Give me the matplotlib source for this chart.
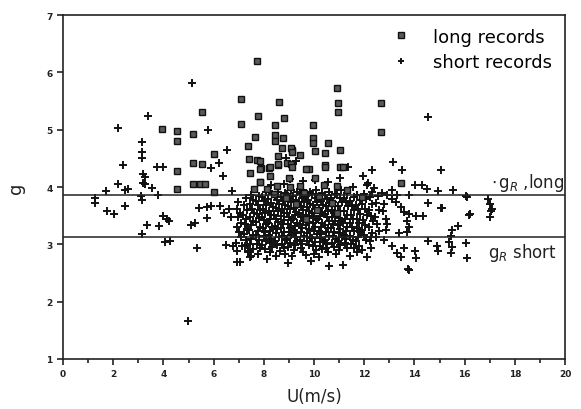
import matplotlib
matplotlib.use("Agg")
import matplotlib.pyplot as plt
from matplotlib.ticker import MultipleLocator

# ---- data ----
long_pts = [
    (7.73, 6.20), (7.09, 5.54), (8.60, 5.49), (5.53, 5.31), (7.76, 5.23), (8.80, 5.21),
    (3.96, 5.01), (4.55, 4.97), (5.18, 4.93), (4.54, 4.81), (7.08, 5.10), (8.46, 5.08),
    (7.65, 4.87), (8.46, 4.90), (8.46, 4.81), (8.78, 4.85), (7.39, 4.71), (6.03, 4.58),
    (7.41, 4.48), (7.72, 4.47), (9.13, 4.65), (5.16, 4.41), (5.54, 4.40), (7.46, 4.24),
    (4.54, 4.28), (7.88, 4.33), (8.20, 4.33), (8.56, 4.39), (8.92, 4.42), (5.17, 4.05),
    (5.46, 4.05), (5.66, 4.06), (4.53, 3.96), (6.03, 3.91), (7.85, 4.09), (7.61, 3.97),
    (10.92, 5.73), (10.96, 5.46), (10.96, 5.31), (12.67, 5.46), (12.67, 4.96), (9.96, 5.09),
    (9.96, 4.85), (9.98, 4.77), (10.56, 4.77), (11.04, 4.65), (9.44, 4.55), (10.04, 4.62),
    (10.44, 4.60), (10.44, 4.38), (11.04, 4.35), (9.80, 4.32), (13.47, 4.07), (8.73, 4.68),
    (9.10, 4.68), (9.12, 4.61), (8.57, 4.54), (8.57, 4.40), (7.85, 4.46), (7.85, 4.32),
    (8.25, 4.35), (9.08, 4.40), (9.12, 4.35), (9.68, 4.32), (10.44, 4.35), (11.15, 4.35),
    (8.25, 4.20), (9.00, 4.16), (10.04, 4.16), (7.85, 4.09), (8.53, 4.02), (9.05, 4.00),
    (9.44, 4.02), (10.40, 4.04), (10.90, 4.02), (8.12, 3.97), (9.60, 3.90), (10.20, 3.85),
    (8.90, 3.80), (11.30, 3.95), (9.30, 3.70), (10.70, 3.72), (11.90, 3.82), (8.40, 3.88),
    (10.10, 3.60), (10.90, 3.55), (9.70, 3.45),
]

short_pts = [
    # outlying points
    (5.15, 5.82), (3.38, 5.24), (2.20, 5.03), (5.79, 5.00), (3.14, 4.79), (3.14, 4.61),
    (3.14, 4.50), (2.38, 4.39), (3.73, 4.35), (3.98, 4.35), (6.23, 4.42), (6.52, 4.65),
    (5.90, 4.34), (6.36, 4.20), (3.20, 4.22), (3.25, 4.18), (3.20, 4.07), (3.28, 4.05),
    (2.20, 4.05), (1.71, 3.93), (2.48, 3.95), (2.60, 3.97), (3.54, 3.98), (3.12, 3.84),
    (3.14, 3.78), (3.80, 3.86), (6.73, 3.93), (1.28, 3.81), (1.28, 3.72), (1.74, 3.58),
    (2.04, 3.53), (2.49, 3.67), (3.36, 3.34), (3.84, 3.32), (3.98, 3.50), (4.14, 3.44),
    (4.24, 3.41), (4.07, 3.04), (4.26, 3.06), (3.14, 3.18), (5.10, 3.34), (5.26, 3.37),
    (5.42, 3.63), (5.74, 3.65), (5.90, 3.67), (5.74, 3.46), (5.34, 2.94), (4.99, 1.66),
    (6.50, 2.99), (6.77, 2.97), (6.93, 2.88), (7.13, 2.97), (7.33, 2.99), (7.37, 2.88),
    (7.45, 2.78), (6.93, 2.69), (6.25, 3.67), (6.40, 3.55), (6.62, 3.62), (6.70, 3.48),
    (14.54, 3.72), (15.06, 3.63), (16.17, 3.51), (15.74, 3.32), (15.50, 3.25), (15.46, 3.15),
    (14.54, 3.06), (14.90, 2.97), (14.94, 2.88), (15.38, 3.04), (15.50, 2.95), (15.46, 2.85),
    (16.06, 3.02), (16.10, 2.76), (13.78, 2.55), (14.02, 2.88), (14.06, 2.76), (13.59, 2.94),
    (13.31, 2.85), (13.47, 2.78), (13.70, 3.41), (13.78, 3.30), (13.70, 3.22), (13.40, 3.20),
    (14.06, 3.50), (14.34, 3.50), (13.47, 3.65), (13.59, 3.57), (13.78, 3.53), (14.54, 5.22),
    (13.15, 4.44), (13.50, 4.30), (12.30, 4.30), (15.06, 4.30), (12.10, 4.04), (14.02, 4.04),
    (14.30, 4.04), (14.50, 3.97), (14.94, 3.93), (15.54, 3.95), (13.10, 3.95), (16.06, 3.84),
    (11.35, 4.35), (11.95, 4.20), (12.15, 4.07), (16.10, 3.83), (16.93, 3.79), (17.01, 3.70),
    (17.09, 3.62), (17.05, 3.58), (17.00, 3.48), (16.20, 3.53), (15.10, 3.63), (13.75, 2.57),
    (12.90, 3.86), (13.30, 3.86), (13.80, 3.86), (9.30, 4.45), (8.90, 4.50), (12.40, 3.98),
    # dense cloud
    (6.92, 3.62), (7.05, 3.55), (6.98, 3.47), (7.08, 3.38), (6.95, 3.30), (7.02, 3.21),
    (7.10, 3.12), (6.90, 3.02), (7.04, 2.70), (6.97, 3.74),
    (7.30, 3.80), (7.22, 3.69), (7.33, 3.60), (7.18, 3.52), (7.28, 3.44),
    (7.24, 3.35), (7.35, 3.27), (7.20, 3.18), (7.30, 3.08), (7.26, 2.97), (7.38, 2.86),
    (7.48, 3.86), (7.58, 3.77), (7.44, 3.70), (7.52, 3.62),
    (7.60, 3.55), (7.47, 3.48), (7.55, 3.40), (7.50, 3.33), (7.42, 3.25), (7.58, 3.17),
    (7.50, 3.09), (7.46, 3.00), (7.55, 2.92), (7.48, 2.80),
    (7.82, 3.84), (7.68, 3.76), (7.78, 3.68),
    (7.85, 3.60), (7.72, 3.53), (7.80, 3.46), (7.70, 3.39), (7.83, 3.31), (7.76, 3.24),
    (7.69, 3.16), (7.81, 3.08), (7.74, 3.01), (7.86, 2.93), (7.78, 2.84),
    (8.08, 3.91), (7.93, 3.83), (8.02, 3.76),
    (8.10, 3.69), (7.97, 3.62), (8.05, 3.55), (7.92, 3.48), (8.00, 3.42), (8.08, 3.35),
    (7.95, 3.28), (8.04, 3.21), (7.99, 3.14), (8.10, 3.06), (7.94, 2.99), (8.03, 2.91),
    (8.12, 2.75),
    (8.30, 4.03), (8.32, 3.87), (8.18, 3.79), (8.27, 3.72),
    (8.35, 3.65), (8.21, 3.58), (8.30, 3.52), (8.24, 3.45), (8.16, 3.38), (8.33, 3.31),
    (8.26, 3.24), (8.19, 3.17), (8.29, 3.10), (8.23, 3.03), (8.34, 2.95), (8.25, 2.87),
    (8.58, 3.92), (8.43, 3.85), (8.52, 3.78),
    (8.60, 3.71), (8.47, 3.64), (8.55, 3.58), (8.42, 3.51), (8.50, 3.45), (8.58, 3.39),
    (8.45, 3.32), (8.54, 3.26), (8.49, 3.19), (8.60, 3.12), (8.44, 3.05), (8.53, 2.98),
    (8.65, 2.88), (8.50, 2.80),
    (8.80, 4.05), (8.83, 3.89), (8.68, 3.82), (8.77, 3.75),
    (8.85, 3.68), (8.72, 3.62), (8.80, 3.55), (8.70, 3.49), (8.82, 3.42), (8.75, 3.36),
    (8.68, 3.29), (8.80, 3.22), (8.74, 3.15), (8.86, 3.08), (8.71, 3.01), (8.79, 2.93),
    (8.83, 2.84),
    (9.05, 4.14), (9.08, 3.95), (8.93, 3.88), (9.02, 3.81),
    (9.10, 3.74), (8.97, 3.67), (9.05, 3.61), (8.92, 3.54), (9.00, 3.48), (9.08, 3.42),
    (8.95, 3.35), (9.04, 3.29), (8.99, 3.22), (9.10, 3.16), (8.94, 3.09), (9.03, 3.02),
    (8.96, 2.95), (9.12, 2.80), (8.96, 2.68),
    (9.32, 3.91), (9.18, 3.84), (9.27, 3.77),
    (9.35, 3.70), (9.21, 3.64), (9.30, 3.57), (9.24, 3.51), (9.16, 3.45), (9.33, 3.38),
    (9.26, 3.32), (9.19, 3.25), (9.29, 3.19), (9.23, 3.12), (9.34, 3.05), (9.25, 2.98),
    (9.20, 2.90),
    (9.55, 4.11), (9.58, 3.94), (9.43, 3.87), (9.52, 3.80),
    (9.60, 3.73), (9.47, 3.66), (9.55, 3.60), (9.42, 3.54), (9.50, 3.47), (9.58, 3.41),
    (9.45, 3.35), (9.54, 3.28), (9.49, 3.22), (9.60, 3.15), (9.44, 3.08), (9.53, 3.01),
    (9.50, 2.93), (9.57, 2.86),
    (9.83, 3.92), (9.68, 3.85), (9.77, 3.78),
    (9.85, 3.71), (9.72, 3.65), (9.80, 3.58), (9.70, 3.52), (9.82, 3.46), (9.75, 3.39),
    (9.68, 3.33), (9.80, 3.26), (9.74, 3.20), (9.86, 3.13), (9.71, 3.06), (9.79, 2.99),
    (9.68, 2.81), (9.88, 2.71),
    (10.05, 4.13), (10.08, 3.95), (9.93, 3.88), (10.02, 3.81),
    (10.10, 3.74), (9.97, 3.68), (10.05, 3.61), (9.92, 3.55), (10.00, 3.49), (10.08, 3.43),
    (9.95, 3.37), (10.04, 3.30), (9.99, 3.24), (10.10, 3.18), (9.94, 3.11), (10.03, 3.04),
    (9.96, 2.97), (10.07, 2.90), (10.00, 2.84),
    (10.32, 3.90), (10.18, 3.83), (10.27, 3.76),
    (10.35, 3.69), (10.21, 3.63), (10.30, 3.56), (10.24, 3.50), (10.16, 3.44), (10.33, 3.37),
    (10.26, 3.31), (10.19, 3.24), (10.29, 3.18), (10.23, 3.11), (10.34, 3.04), (10.25, 2.97),
    (10.30, 2.92), (10.20, 2.78),
    (10.55, 4.09), (10.58, 3.92), (10.43, 3.86), (10.52, 3.79),
    (10.60, 3.72), (10.47, 3.66), (10.55, 3.59), (10.42, 3.53), (10.50, 3.47), (10.58, 3.41),
    (10.45, 3.34), (10.54, 3.28), (10.49, 3.21), (10.60, 3.15), (10.44, 3.08), (10.53, 3.01),
    (10.60, 2.62), (10.48, 2.94), (10.56, 2.86),
    (10.83, 3.87), (10.68, 3.80), (10.77, 3.73),
    (10.85, 3.67), (10.72, 3.60), (10.80, 3.54), (10.70, 3.47), (10.82, 3.41), (10.75, 3.35),
    (10.68, 3.28), (10.80, 3.22), (10.74, 3.15), (10.86, 3.09), (10.71, 3.02), (10.88, 2.83),
    (10.79, 2.95),
    (11.05, 4.15), (11.08, 3.95), (10.93, 3.87), (11.02, 3.80),
    (11.10, 3.73), (10.97, 3.66), (11.05, 3.59), (10.92, 3.53), (11.00, 3.46), (11.08, 3.40),
    (10.95, 3.33), (11.04, 3.26), (10.99, 3.19), (11.10, 3.12), (10.94, 3.05), (11.03, 2.98),
    (11.16, 2.64), (11.00, 2.90),
    (11.32, 3.89), (11.18, 3.81), (11.27, 3.74),
    (11.35, 3.66), (11.21, 3.59), (11.30, 3.52), (11.24, 3.45), (11.16, 3.38), (11.33, 3.31),
    (11.26, 3.24), (11.19, 3.16), (11.29, 3.09), (11.23, 3.02), (11.43, 2.80), (11.30, 2.94),
    (11.55, 4.00), (11.58, 3.83), (11.43, 3.75), (11.52, 3.67),
    (11.60, 3.60), (11.47, 3.52), (11.55, 3.45), (11.42, 3.38), (11.50, 3.30), (11.58, 3.23),
    (11.45, 3.15), (11.54, 3.08), (11.49, 3.00), (11.70, 2.87), (11.60, 2.93),
    (11.73, 3.86), (11.83, 3.77), (11.68, 3.69), (11.77, 3.61),
    (11.85, 3.53), (11.72, 3.45), (11.80, 3.37), (11.70, 3.29), (11.82, 3.21), (11.75, 3.13),
    (11.68, 3.05), (11.80, 2.97), (11.90, 2.90),
    (11.98, 3.88), (12.08, 3.79), (11.93, 3.70), (12.02, 3.61),
    (12.10, 3.52), (11.97, 3.43), (12.05, 3.34), (11.92, 3.25), (12.00, 3.16), (12.08, 3.07),
    (12.10, 2.78), (12.27, 2.94), (12.27, 3.13),
    (12.30, 3.92), (12.22, 3.82), (12.32, 3.71), (12.18, 3.60), (12.27, 3.50),
    (12.35, 3.40), (12.21, 3.30), (12.30, 3.20), (12.24, 3.06),
    (12.55, 3.84), (12.48, 3.72), (12.58, 3.60), (12.43, 3.48), (12.52, 3.36),
    (12.60, 3.24), (12.47, 3.12), (12.79, 3.08),
    (12.87, 3.44), (12.90, 3.36), (12.87, 3.25), (12.70, 3.90), (12.80, 3.70), (12.75, 3.58),
    (13.10, 2.97), (13.10, 3.79), (13.27, 3.74),
]

long_u = [p[0] for p in long_pts]
long_g = [p[1] for p in long_pts]
short_u = [p[0] for p in short_pts]
short_g = [p[1] for p in short_pts]

g_r_long = 3.86
g_r_short = 3.12

x_ticks = [0, 2, 4, 6, 8, 10, 12, 14, 16, 18, 20]
y_ticks = [1, 2, 3, 4, 5, 6, 7]

# ---- figure ----
fig = plt.figure(figsize=(5.81, 4.10), dpi=100)
ax = fig.add_axes([63 / 581, 1 - 360 / 410, (565 - 63) / 581, (360 - 16) / 410])

ax.plot(short_u, short_g, linestyle='none', marker='+', markersize=6,
        markeredgewidth=1.4, color='#111111', label='short records')
ax.plot(long_u, long_g, linestyle='none', marker='s', markersize=5,
        markerfacecolor='#5a5a5a', markeredgecolor='#111111', markeredgewidth=1.0,
        label='long records')

ax.axhline(g_r_long, color='#222222', linewidth=1.1)
ax.axhline(g_r_short, color='#222222', linewidth=1.1)

ax.text(17.05, 3.90, r'$\cdot\,\mathrm{g}_R\;$,long', fontsize=12, color='#222222',
        ha='left', va='bottom')
ax.text(16.95, 2.87, r'$\mathrm{g}_R$ short', fontsize=12, color='#222222',
        ha='left', va='center')

ax.set_xlim(0, 20)
ax.set_ylim(1, 7)
ax.set_xticks(x_ticks)
ax.xaxis.set_minor_locator(MultipleLocator(1))
ax.set_yticks(y_ticks)
ax.tick_params(axis='both', which='both', direction='out', labelsize=6.5,
               width=1.2, colors='#222222')
ax.tick_params(axis='both', which='major', length=4)
ax.tick_params(axis='both', which='minor', length=3)
for lbl in ax.get_xticklabels() + ax.get_yticklabels():
    lbl.set_fontweight('bold')
for sp in ax.spines.values():
    sp.set_linewidth(1.2)
    sp.set_color('#222222')

ax.set_xlabel('U(m/s)', fontsize=12, color='#222222', labelpad=6)
ax.set_ylabel('g', fontsize=13, color='#222222', labelpad=15)

handles, labels = ax.get_legend_handles_labels()
leg = ax.legend(handles[::-1], labels[::-1], loc='upper right', frameon=False,
                fontsize=13, handletextpad=0.8, borderaxespad=0.3,
                labelspacing=0.4, markerscale=0.75)

fig.savefig('out.png', dpi=100)
